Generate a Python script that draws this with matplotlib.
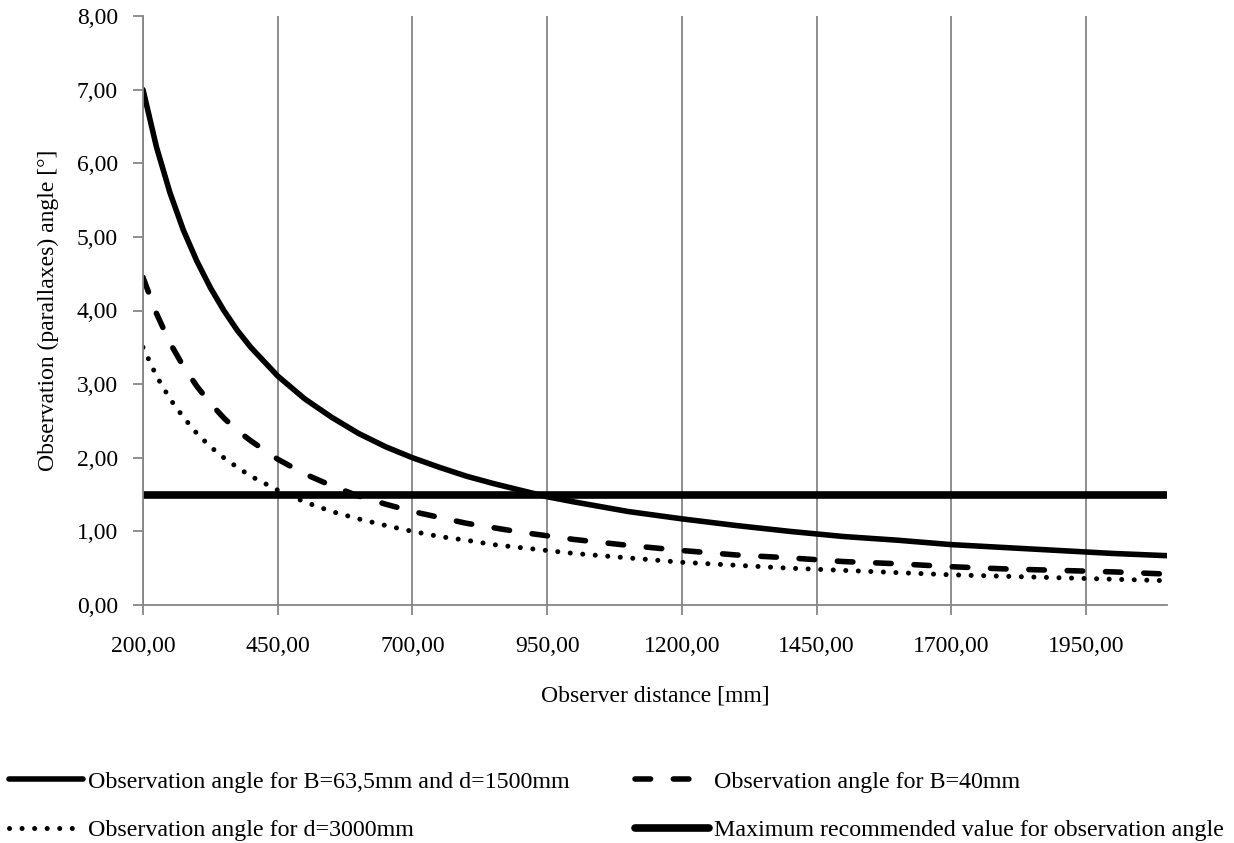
import matplotlib
matplotlib.use("Agg")
import matplotlib.pyplot as plt
from matplotlib.ticker import FuncFormatter, MultipleLocator

plt.rcParams['font.family'] = ['Liberation Serif', 'DejaVu Serif']

# observer distance [mm]
distance = [200, 225, 250, 275, 300, 325, 350, 375, 400, 450, 500, 550, 600, 650, 700, 750, 800,
            850, 900, 950, 1000, 1100, 1200, 1300, 1400, 1500, 1600, 1700, 1800, 1900, 2000, 2100]
# observation angle [deg]
angle_b63_d1500 = [7.00, 6.22, 5.60, 5.09, 4.67, 4.31, 4.00, 3.73, 3.50, 3.11, 2.80, 2.55, 2.33,
                   2.15, 2.00, 1.87, 1.75, 1.65, 1.56, 1.47, 1.40, 1.27, 1.17, 1.08, 1.00, 0.93,
                   0.88, 0.82, 0.78, 0.74, 0.70, 0.67]
angle_b40 = [4.45, 3.96, 3.56, 3.24, 2.97, 2.74, 2.54, 2.37, 2.23, 1.98, 1.78, 1.62, 1.48, 1.37,
             1.27, 1.19, 1.11, 1.05, 0.99, 0.94, 0.89, 0.81, 0.74, 0.68, 0.64, 0.59, 0.56, 0.52,
             0.49, 0.47, 0.45, 0.42]
angle_d3000 = [3.50, 3.11, 2.80, 2.55, 2.33, 2.15, 2.00, 1.87, 1.75, 1.56, 1.40, 1.27, 1.17, 1.08,
               1.00, 0.93, 0.88, 0.82, 0.78, 0.74, 0.70, 0.64, 0.58, 0.54, 0.50, 0.47, 0.44, 0.41,
               0.39, 0.37, 0.35, 0.33]
max_angle = [1.5, 1.5]
max_x = [200, 2100]

x_ticks = [200, 450, 700, 950, 1200, 1450, 1700, 1950]

labels = ['Observation angle for B=63,5mm and d=1500mm',
          'Observation angle for B=40mm',
          'Observation angle for d=3000mm',
          'Maximum recommended value for observation angle']

FS = 17.3

fig = plt.figure(figsize=(12.34, 8.43), dpi=100)
ax = fig.add_axes([143/1234, 1-605/843, (1167-143)/1234, (605-16)/843])

l1, = ax.plot(distance, angle_b63_d1500, color='black', lw=4.0, solid_capstyle='round',
              solid_joinstyle='round')
l2, = ax.plot(distance, angle_b40, color='black', lw=4.0, linestyle=(0, (2.8, 4.1)),
              dash_capstyle='round')
l3, = ax.plot(distance, angle_d3000, color='black', lw=3.6, linestyle=(0, (0.01, 2.5)),
              dash_capstyle='round')
l4, = ax.plot(max_x, max_angle, color='black', lw=5.5, solid_capstyle='round')

ax.set_xlim(200, 2100)
ax.set_ylim(0, 8)
ax.set_xticks(x_ticks)
ax.yaxis.set_major_locator(MultipleLocator(1))
fmt = FuncFormatter(lambda v, p: f'{v:.2f}'.replace('.', ','))
ax.xaxis.set_major_formatter(fmt)
ax.yaxis.set_major_formatter(fmt)

ax.grid(axis='x', color='#868686', lw=1.3)
ax.set_axisbelow(True)
for s in ['top', 'right']:
    ax.spines[s].set_visible(False)
for s in ['left', 'bottom']:
    ax.spines[s].set_color('#868686')
    ax.spines[s].set_linewidth(1.3)
ax.tick_params(colors='#868686', labelcolor='black', width=1.3, length=7, labelsize=17)
ax.tick_params(axis='x', pad=15)
ax.tick_params(axis='y', pad=11)

ax.set_xlabel('Observer distance [mm]', fontsize=17, labelpad=21)
ax.set_ylabel('Observation (parallaxes) angle [°]', fontsize=17, labelpad=13)

fig.legend([l1, l3, l2, l4], [labels[0], labels[2], labels[1], labels[3]],
           ncol=2, loc='center left', bbox_to_anchor=(9/1234, 1-806/843),
           frameon=False, fontsize=FS, handlelength=3.1, handletextpad=0.2,
           labelspacing=1.1, columnspacing=2.7, borderpad=0, borderaxespad=0)

fig.savefig('out.png', dpi=100)
